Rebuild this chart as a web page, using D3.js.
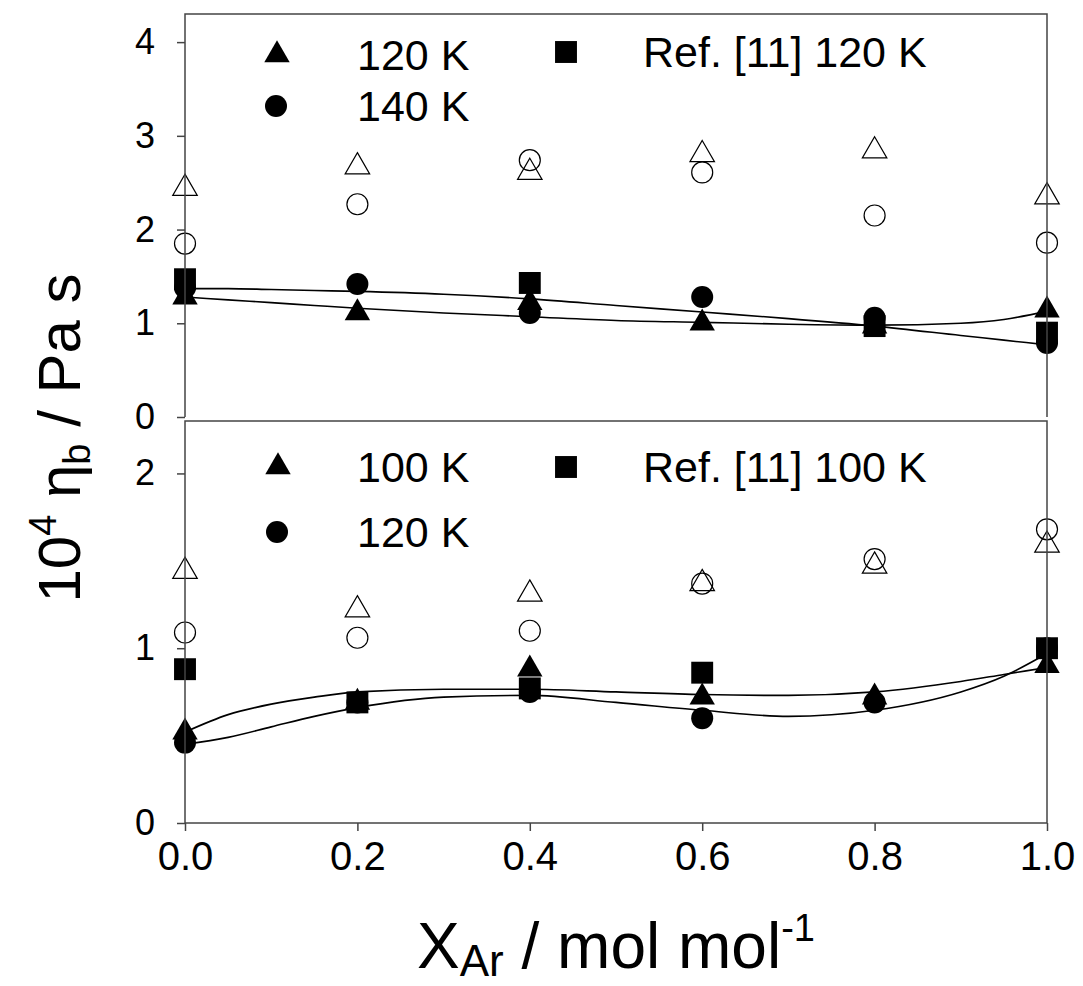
<!DOCTYPE html>
<html lang="en">
<head>
    <meta charset="utf-8">
    <title>Bulk viscosity vs X_Ar</title>
    <script src="https://cdn.jsdelivr.net/npm/d3@7"></script>
    <style>
        body { margin: 0; background: #fff; }
        text { font-family: "Liberation Sans", Arial, sans-serif; fill: #000; }
    </style>
</head>
<body>
<script type="text/javascript">
    // mole fraction of Ar
    var xAr = [0.0, 0.2, 0.4, 0.6, 0.8, 1.0];
    var xTicks = [0.0, 0.2, 0.4, 0.6, 0.8, 1.0];
    var fitX = [0, 0.05, 0.1, 0.15, 0.2, 0.3, 0.4, 0.5, 0.6, 0.7, 0.8, 0.9, 0.95, 1.0];

    // top panel: 120 K and 140 K
    var topTicks = [0, 1, 2, 3, 4];
    var top120 = [1.28, 1.11, 1.22, 1.00, 0.97, 1.14];
    var top140 = [1.38, 1.42, 1.11, 1.28, 1.06, 0.79];
    var topRefX = [0.0, 0.4, 0.8, 1.0];
    var topRef120 = [1.47, 1.43, 0.97, 0.90];
    var topOpenTri = [2.44, 2.67, 2.61, 2.80, 2.84, 2.35];
    var topOpenCirc = [1.85, 2.27, 2.74, 2.61, 2.15, 1.86];
    var topFit140 = [1.37, 1.37, 1.36, 1.35, 1.34, 1.31, 1.26, 1.19, 1.12, 1.05, 0.97, 0.87, 0.82, 0.77];
    var topFit120 = [1.28, 1.25, 1.22, 1.19, 1.16, 1.11, 1.07, 1.03, 1.01, 0.99, 0.98, 1.00, 1.04, 1.13];

    // bottom panel: 100 K and 120 K
    var botTicks = [0, 1, 2];
    var bot100 = [0.52, 0.69, 0.88, 0.72, 0.72, 0.90];
    var bot120 = [0.46, 0.69, 0.75, 0.60, 0.69, 1.00];
    var botRefX = [0.0, 0.2, 0.4, 0.6, 1.0];
    var botRef100 = [0.88, 0.69, 0.77, 0.86, 1.00];
    var botOpenTri = [1.44, 1.22, 1.31, 1.37, 1.47, 1.59];
    var botOpenCirc = [1.09, 1.06, 1.10, 1.37, 1.51, 1.68];
    var botFit100 = [0.52, 0.62, 0.68, 0.72, 0.75, 0.765, 0.765, 0.75, 0.735, 0.73, 0.75, 0.81, 0.85, 0.89];
    var botFit120 = [0.45, 0.49, 0.55, 0.61, 0.66, 0.72, 0.73, 0.69, 0.645, 0.61, 0.645, 0.75, 0.84, 0.97];

    var w = 1083;
    var h = 986;
    var left = 185, right = 1047;
    var frameColor = "#444";

    var svg = d3.select("body")
        .append("svg")
        .attr("width", w)
        .attr("height", h);

    var x = d3.scaleLinear().domain([0, 1]).range([left, right]);
    var yTop = d3.scaleLinear().domain([0, 4.3]).range([417, 14]);
    var yBot = d3.scaleLinear().domain([0, 2.3]).range([823, 421]);

    var triFilled = d3.symbol().type(d3.symbolTriangle).size(280);
    var triOpen = d3.symbol().type(d3.symbolTriangle).size(260);
    var sq = d3.symbol().type(d3.symbolSquare).size(480);

    function pairs(xs, ys) {
        return xs.map(function (d, i) { return [d, ys[i]]; });
    }

    function drawPanel(y, ticks, fits, openTri, openCirc, filledTri, filledCirc, refX, refY) {
        var g = svg.append("g");

        // fitted curves
        var line = d3.line()
            .x(function (d) { return x(d[0]); })
            .y(function (d) { return y(d[1]); })
            .curve(d3.curveMonotoneX);
        fits.forEach(function (f) {
            g.append("path")
                .attr("d", line(pairs(fitX, f)))
                .attr("fill", "none")
                .attr("stroke", "#000")
                .attr("stroke-width", 1.6);
        });

        // open symbols
        g.selectAll(".otri")
            .data(pairs(xAr, openTri))
            .enter().append("path")
            .attr("transform", function (d) { return "translate(" + x(d[0]) + "," + y(d[1]) + ")"; })
            .attr("d", triOpen)
            .attr("fill", "none")
            .attr("stroke", "#000")
            .attr("stroke-width", 1.2);
        g.selectAll(".ocirc")
            .data(pairs(xAr, openCirc))
            .enter().append("circle")
            .attr("cx", function (d) { return x(d[0]); })
            .attr("cy", function (d) { return y(d[1]); })
            .attr("r", 10.5)
            .attr("fill", "none")
            .attr("stroke", "#000")
            .attr("stroke-width", 1.2);

        // filled symbols
        g.selectAll(".ftri")
            .data(pairs(xAr, filledTri))
            .enter().append("path")
            .attr("transform", function (d) { return "translate(" + x(d[0]) + "," + y(d[1]) + ")"; })
            .attr("d", triFilled)
            .attr("fill", "#000");
        g.selectAll(".fcirc")
            .data(pairs(xAr, filledCirc))
            .enter().append("circle")
            .attr("cx", function (d) { return x(d[0]); })
            .attr("cy", function (d) { return y(d[1]); })
            .attr("r", 11)
            .attr("fill", "#000");
        g.selectAll(".fsq")
            .data(pairs(refX, refY))
            .enter().append("path")
            .attr("transform", function (d) { return "translate(" + x(d[0]) + "," + y(d[1]) + ")"; })
            .attr("d", sq)
            .attr("fill", "#000");

        // y axis
        var ax = g.append("g")
            .attr("transform", "translate(" + left + ",0)")
            .call(d3.axisLeft(y).tickValues(ticks).tickFormat(d3.format("d"))
                .tickSize(8).tickSizeOuter(0).tickPadding(22));
        ax.select(".domain").remove();
        ax.selectAll("line").attr("stroke", frameColor).attr("stroke-width", 1.5);
        ax.selectAll("text").attr("font-size", 36).attr("font-family", "Liberation Sans, Arial, sans-serif");
        return g;
    }

    drawPanel(yTop, topTicks, [topFit140, topFit120], topOpenTri, topOpenCirc, top120, top140, topRefX, topRef120);
    drawPanel(yBot, botTicks, [botFit100, botFit120], botOpenTri, botOpenCirc, bot100, bot120, botRefX, botRef100);

    // frames: top panel open at bottom, bottom panel closed
    svg.append("path")
        .attr("d", "M" + left + "," + yTop(0) + "V" + yTop(4.3) + "H" + right + "V" + yTop(0))
        .attr("fill", "none")
        .attr("stroke", frameColor)
        .attr("stroke-width", 1.5);
    svg.append("rect")
        .attr("x", left).attr("y", yBot(2.3))
        .attr("width", right - left).attr("height", yBot(0) - yBot(2.3))
        .attr("fill", "none")
        .attr("stroke", frameColor)
        .attr("stroke-width", 1.5);

    // x axis
    var xa = svg.append("g")
        .attr("transform", "translate(0," + yBot(0) + ")")
        .call(d3.axisBottom(x).tickValues(xTicks).tickFormat(d3.format(".1f"))
            .tickSize(8).tickSizeOuter(0).tickPadding(11));
    xa.select(".domain").remove();
    xa.selectAll("line").attr("stroke", frameColor).attr("stroke-width", 1.5);
    xa.selectAll("text").attr("font-size", 40).attr("font-family", "Liberation Sans, Arial, sans-serif");

    // legends
    function legend(items) {
        items.forEach(function (it) {
            var s = svg.append("g").attr("transform", "translate(" + it.sx + "," + it.sy + ")");
            if (it.shape === "tri") s.append("path").attr("d", triFilled).attr("fill", "#000");
            else if (it.shape === "circ") s.append("circle").attr("r", 11).attr("fill", "#000");
            else s.append("path").attr("d", sq).attr("fill", "#000");
            svg.append("text")
                .attr("x", it.tx).attr("y", it.sy + 15)
                .attr("font-size", 43)
                .text(it.label);
        });
    }
    legend([
        {shape: "tri", sx: 277, sy: 55, tx: 357, label: "120 K"},
        {shape: "circ", sx: 276, sy: 106, tx: 357, label: "140 K"},
        {shape: "sq", sx: 566, sy: 52, tx: 643, label: "Ref. [11] 120 K"},
        {shape: "tri", sx: 278, sy: 467, tx: 357, label: "100 K"},
        {shape: "circ", sx: 277, sy: 532, tx: 357, label: "120 K"},
        {shape: "sq", sx: 566, sy: 467, tx: 643, label: "Ref. [11] 100 K"}
    ]);

    // axis titles
    var xt = svg.append("text")
        .attr("x", 616).attr("y", 968)
        .attr("text-anchor", "middle")
        .attr("font-size", 64);
    xt.append("tspan").text("X");
    xt.append("tspan").attr("font-size", 44).attr("dy", 8).text("Ar");
    xt.append("tspan").attr("dy", -8).text(" / mol mol");
    xt.append("tspan").attr("font-size", 38).attr("dy", -27).text("-1");

    var yt = svg.append("text")
        .attr("transform", "translate(80,438) rotate(-90)")
        .attr("text-anchor", "middle")
        .attr("font-size", 60);
    yt.append("tspan").text("10");
    yt.append("tspan").attr("font-size", 38).attr("dy", -24).text("4");
    yt.append("tspan").attr("dy", 24).text(" \u03b7");
    yt.append("tspan").attr("font-size", 38).attr("dy", 10).text("b");
    yt.append("tspan").attr("dy", -10).text(" / Pa s");
</script>
</body>
</html>
